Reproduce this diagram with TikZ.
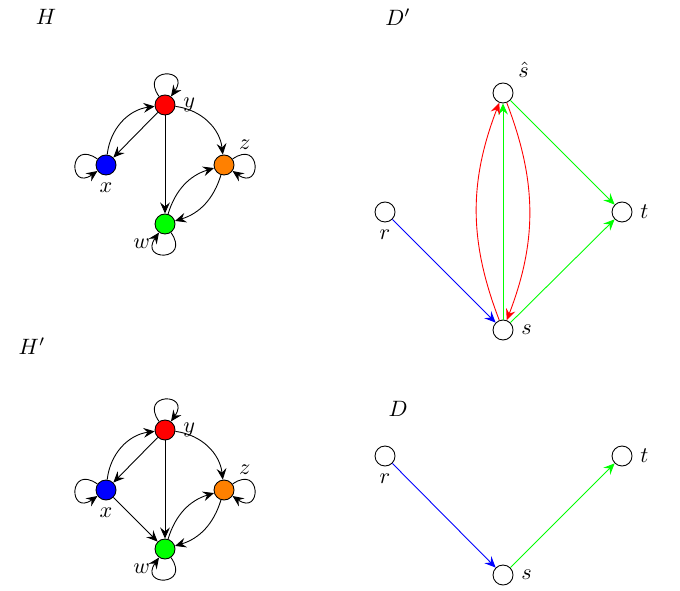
\documentclass[tikz,border=0pt]{standalone}
\usetikzlibrary{arrows.meta}
\begin{document}
\begin{tikzpicture}[x=0.45pt,y=-0.45pt,
  vtx/.style={circle,draw,minimum size=9pt,inner sep=0pt},
  tip/.style={-{Stealth[length=5pt,width=4.4pt,inset=1.8pt]}},
  lp/.style={tip,loop,min distance=16pt}]
\useasboundingbox (0,0) rectangle (680,591);

% titles
\node (tH)  at (46,17)  {$H$};
\node (tDp) at (398,17) {$D'$};
\node (tHp) at (32,346) {$H'$};
\node (tD)  at (398,409) {$D$};

% ---------- H ----------
\node[vtx,fill=red,label=right:$y$]            (hy) at (165,105) {};
\node[vtx,fill=blue,label=below:$x$]           (hx) at (106,165) {};
\node[vtx,fill=orange,label=above right:$z$]   (hz) at (224,165) {};
\node[vtx,fill=green,label=below left:$w$]     (hw) at (165,224) {};
\draw[lp,out=125,in=55]  (hy) to (hy);
\draw[lp,out=145,in=215] (hx) to (hx);
\draw[lp,out=35,in=-35]  (hz) to (hz);
\draw[lp,out=305,in=235] (hw) to (hw);
\draw[tip] (hx) to[bend left=38] (hy);
\draw[tip] (hy) -- (hx);
\draw[tip] (hy) to[bend left=38] (hz);
\draw[tip] (hy) -- (hw);
\draw[tip] (hw) to[bend left=28] (hz);
\draw[tip] (hz) to[bend left=28] (hw);

% ---------- H' ----------
\node[vtx,fill=red,label=right:$y$]            (gy) at (165,430) {};
\node[vtx,fill=blue,label=below:$x$]           (gx) at (106,490) {};
\node[vtx,fill=orange,label=above right:$z$]   (gz) at (224,490) {};
\node[vtx,fill=green,label=below left:$w$]     (gw) at (165,549) {};
\draw[lp,out=125,in=55]  (gy) to (gy);
\draw[lp,out=145,in=215] (gx) to (gx);
\draw[lp,out=35,in=-35]  (gz) to (gz);
\draw[lp,out=305,in=235] (gw) to (gw);
\draw[tip] (gx) to[bend left=38] (gy);
\draw[tip] (gy) -- (gx);
\draw[tip] (gy) to[bend left=38] (gz);
\draw[tip] (gy) -- (gw);
\draw[tip] (gx) -- (gw);
\draw[tip] (gw) to[bend left=28] (gz);
\draw[tip] (gz) to[bend left=28] (gw);

% ---------- D' ----------
\node[vtx,label=above right:$\hat{s}$] (dsh) at (503,93) {};
\node[vtx,label=below:$r$]             (dr)  at (385,212) {};
\node[vtx,label=right:$t$]             (dt)  at (622,212) {};
\node[vtx,label=right:$s$]             (ds)  at (503,330) {};
\draw[tip,blue]  (dr) -- (ds);
\draw[tip,green] (ds) -- (dt);
\draw[tip,green] (dsh) -- (dt);
\draw[tip,green] (ds) -- (dsh);
\draw[tip,red] (ds) to[bend left=21] (dsh);
\draw[tip,red] (dsh) to[bend left=21] (ds);

% ---------- D ----------
\node[vtx,label=below:$r$] (er) at (385,456) {};
\node[vtx,label=right:$t$] (et) at (622,456) {};
\node[vtx,label=right:$s$] (es) at (503,575) {};
\draw[tip,blue]  (er) -- (es);
\draw[tip,green] (es) -- (et);
\end{tikzpicture}
\end{document}
